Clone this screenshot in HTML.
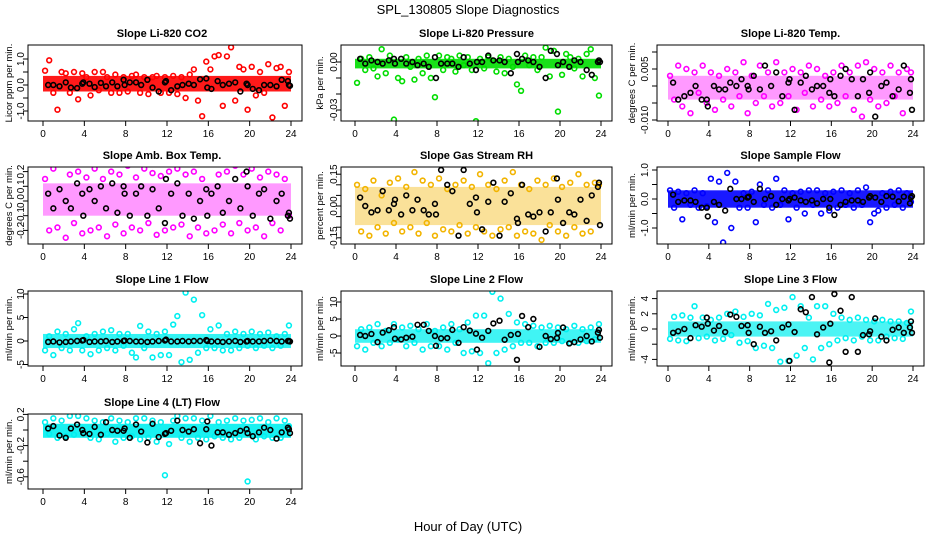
<!DOCTYPE html>
<html><head><meta charset="utf-8"><style>
html,body{margin:0;padding:0;background:#fff;}
svg{display:block;font-family:"Liberation Sans",sans-serif;}
</style></head><body>
<svg id="chart" width="936" height="540" viewBox="0 0 936 540" xmlns="http://www.w3.org/2000/svg">
<rect width="936" height="540" fill="#fff"/>
<text x="468" y="14" text-anchor="middle" font-size="13">SPL_130805  Slope Diagnostics</text>
<text x="468" y="531" text-anchor="middle" font-size="13">Hour of Day (UTC)</text>
</svg>
<script>
const colorHours=[0.2,0.6,1.0,1.4,1.8,2.2,2.6,3.0,3.4,3.8,4.2,4.6,5.0,5.4,5.8,6.2,6.6,7.0,7.4,7.8,8.2,8.6,9.0,9.4,9.8,10.2,10.6,11.0,11.4,11.8,12.2,12.6,13.0,13.4,13.8,14.2,14.6,15.0,15.4,15.8,16.2,16.6,17.0,17.4,17.8,18.2,18.6,19.0,19.4,19.8,20.2,20.6,21.0,21.4,21.8,22.2,22.6,23.0,23.4,23.8];
const blackHours=[0.5,1.0,1.6,2.2,2.7,3.3,3.8,3.9,4.5,5.0,5.6,6.1,6.7,7.2,7.8,7.9,8.4,9.0,9.5,10.1,10.6,11.2,11.8,11.9,12.4,13.0,13.5,14.1,14.6,15.2,15.8,15.9,16.3,16.9,17.4,18.0,18.6,19.1,19.7,19.8,20.3,20.9,21.4,22.0,22.6,23.1,23.7,23.8,23.9];
const xTicks=[0,4,8,12,16,20,24];
const titles=["Slope Li-820 CO2","Slope Li-820 Pressure","Slope Li-820 Temp.","Slope Amb. Box Temp.","Slope Gas Stream RH","Slope Sample Flow","Slope Line 1 Flow","Slope Line 2 Flow","Slope Line 3 Flow","Slope Line 4 (LT) Flow"];
const yTitles=["Licor ppm per min.","kPa per min.","degrees C per min.","degrees C per min.","percent per min.","ml/min per min.","ml/min per min.","ml/min per min.","ml/min per min.","ml/min per min."];
const coreLo=[-0.25,-0.004,-0.004,-0.10,-0.09,-0.3,-1.5,-2,-1,-0.1];
const coreHi=[0.35,0.002,0.003,0.12,0.09,0.3,1.5,2,1,0.08];
const yTickVals=[[-1,-0.5,0,0.5,1],[-0.03,-0.02,-0.01,0],[-0.010,-0.005,0,0.005,0.010],[-0.2,-0.1,0,0.1,0.2],[-0.15,-0.10,-0.05,0,0.05,0.10,0.15],[-1,-0.5,0,0.5,1],[-5,0,5,10],[-5,0,5,10],[-4,-2,0,2,4],[-0.6,-0.4,-0.2,0,0.2]];
const yTickLabels=[["-1.0","","0.0","","1.0"],["-0.03","","","0.00"],["-0.010","","","0.005",""],["-0.2","-0.1","0.0","0.1","0.2"],["-0.15","","","0.00","","","0.15"],["-1.0","","0.0","","1.0"],["-5","0","5","10"],["-5","0","5","10"],["-4","","0","2","4"],["-0.6","","-0.2","","0.2"]];
const colored=[
[0.55,0.95,-0.3,-0.95,0.5,0.45,-0.3,0.5,-0.55,0.45,0.3,-0.4,0.5,-0.2,0.5,0.3,-0.3,0.4,-0.3,0.3,-0.25,0.35,0.4,-0.3,0.3,-0.35,0.3,0.35,-0.3,0.3,-0.3,0.35,-0.35,0.3,-0.5,0.4,0.6,-0.6,-1.2,0.9,0.6,1.1,1.15,-0.8,1.1,1.45,-0.6,0.7,0.6,-0.95,0.7,-0.4,0.5,-0.3,0.8,-1.25,0.65,0.7,-0.8,0.5],
[-0.013,0.002,-0.005,0.003,-0.004,-0.009,0.008,-0.007,0.004,-0.036,-0.010,-0.012,0.003,-0.003,-0.011,0.002,-0.007,0.004,-0.010,-0.022,0.004,-0.005,0.003,0.002,-0.006,0.004,-0.002,0.003,-0.005,-0.037,0.002,-0.004,0.003,0.001,-0.006,0.003,-0.007,0.002,-0.003,-0.014,-0.018,0.004,-0.002,0.003,-0.005,0.003,0.009,-0.009,0.007,-0.031,-0.008,0.005,0.003,-0.004,0.002,-0.009,0.005,0.008,-0.010,-0.021],
[0.003,-0.004,0.006,-0.006,0.005,-0.008,0.004,-0.002,0.006,-0.005,0.004,-0.007,0.003,-0.004,0.005,-0.006,0.004,-0.003,0.007,-0.008,0.003,-0.005,0.006,-0.003,0.004,-0.006,0.007,-0.005,0.004,-0.003,0.005,-0.007,0.004,-0.002,0.006,-0.006,0.005,-0.004,0.003,-0.006,0.004,-0.005,0.006,-0.003,0.004,-0.007,0.006,-0.009,0.007,-0.004,0.005,-0.006,0.004,-0.005,0.006,-0.003,0.004,-0.008,0.005,0.004],
[0.15,-0.2,0.22,-0.18,0.25,-0.25,0.18,-0.15,0.2,-0.22,0.16,-0.2,0.22,-0.18,0.15,-0.24,0.2,-0.16,0.18,-0.22,0.24,-0.18,0.16,-0.2,0.22,-0.15,0.19,-0.23,0.17,-0.2,0.2,-0.18,0.22,-0.16,0.18,-0.24,0.2,-0.18,0.15,-0.22,0.25,-0.2,0.18,-0.16,0.2,-0.22,0.24,-0.15,0.18,-0.2,0.22,-0.18,0.16,-0.24,0.2,-0.15,0.18,-0.2,0.15,-0.1],
[0.1,-0.12,0.08,-0.14,0.12,-0.1,0.05,-0.13,0.11,-0.08,0.13,-0.12,0.09,-0.1,0.16,-0.13,0.12,-0.08,0.1,-0.14,0.13,-0.11,0.08,-0.12,0.1,-0.09,0.12,-0.13,0.09,-0.1,0.15,-0.12,0.1,-0.14,0.08,-0.11,0.12,-0.1,0.16,-0.14,0.1,-0.12,0.08,-0.13,0.12,-0.16,0.1,-0.09,0.13,-0.12,0.09,-0.14,0.11,-0.1,0.15,-0.13,0.1,-0.12,0.11,0.1],
[0.3,-0.3,0.25,-0.7,0.2,-0.2,0.3,-0.3,0.2,-0.25,0.7,-0.8,0.6,-1.5,0.9,-1.0,0.6,-0.3,0.2,-0.3,0.25,-0.8,0.5,-0.2,0.3,-0.3,0.7,-0.2,0.3,-0.7,0.2,-0.3,0.25,-0.5,0.3,-0.2,0.3,-0.5,0.2,-0.4,0.25,-0.3,0.3,-0.2,0.2,-0.3,0.3,-0.2,0.4,-0.8,-0.5,-0.4,0.2,-0.3,0.25,-0.2,0.3,-0.3,0.2,-0.1],
[-2,1,-3,2,-1.5,1.5,-2,2.5,3.8,-2,1,-2.8,1.5,-2,2,-1.5,2.3,-2,1.5,-1,1.5,-2.5,-3.5,3.2,-1.5,2,-3.5,1.5,-3,2,-3,3.5,5.3,-4.5,10.3,-4,8.8,-2.5,5.5,-1.5,2.5,-1.5,3.3,-2,1.5,-2,2,-1.5,1.5,-1,2,-1.5,1.5,-1,1.8,-1.5,1,-1,1.5,3.3],
[-3,2,-4,2.5,-2,3.5,-3,1.5,-2,3.5,-1,2.5,-3,3,-2,2,-4,3.5,-3,1.5,-3,2.5,-4,3.5,-2,2,-5,4,-4.5,6,-5,6,-8,13,-5,11,-4,6.5,-3,4,-2,3.5,-2,3,-3,2.5,-2,3,-2,2.5,-1.5,2,-2,3,-2,2,-1.5,2.5,-1,3.5],
[-1.3,1.6,-1.5,1.8,-1.6,1.5,3,-1.2,1.5,-1,1.2,-1.5,1.5,-1.3,2,-0.8,2.3,-1.8,1.6,-1.6,2,-2.5,1.8,-2.2,3.3,-2.5,2.5,-4.3,2.8,-4.2,4.2,-3.5,3,-2.5,1.5,-4,3,-2.5,3,-2,2,-1.5,1.5,-1.2,1.2,-1.5,1.5,-1,1.2,-1.5,1,-1.5,1.2,-1,1,-1.2,1,-1.3,0.8,2.3],
[0.1,-0.05,0.15,-0.1,0.12,-0.08,0.18,-0.06,0.18,-0.8,0.15,-0.1,0.12,-0.12,0.1,-0.05,0.15,-0.15,0.12,-0.1,0.1,-0.08,0.15,-0.12,0.15,-0.1,0.12,-0.15,0.1,-0.58,-0.18,0.12,0.18,-0.1,0.15,-0.15,0.15,-0.1,0.12,-0.12,0.18,-0.08,0.1,-0.1,0.12,-0.12,0.15,-0.1,0.12,-0.66,0.13,-0.12,0.15,-0.08,0.1,-0.1,0.15,-0.1,0.12,0.05]
];
const black=[
[0,0,-0.05,0.1,-0.1,-0.12,0.05,0.1,0.05,-0.08,0.08,-0.05,0.1,-0.05,0.2,0.0,0.1,0.1,0.0,0.2,-0.1,-0.25,0.1,0.15,-0.2,-0.05,0.0,0.05,0.0,0.22,0.25,-0.1,-0.15,0.15,0.0,0.05,0.1,-0.25,0.05,0.0,-0.15,-0.2,0.0,0.0,-0.05,0.2,0.15,0.0,-0.03],
[0.002,-0.001,0.001,0.000,-0.001,0.001,0.002,-0.001,0.002,-0.001,0.000,-0.002,-0.001,-0.003,0.003,-0.010,-0.001,-0.001,-0.001,-0.003,0.003,-0.001,-0.005,0.000,0.000,0.004,0.001,0.001,0.000,-0.007,0.005,0.000,0.002,0.001,0.000,-0.003,-0.010,0.007,0.005,-0.002,0.000,-0.003,0.001,0.000,-0.005,-0.008,0.000,0.001,0.000],
[0.001,-0.004,-0.003,-0.002,0.000,-0.004,-0.004,-0.006,0.000,-0.001,-0.001,0.001,0.000,0.002,0.000,-0.001,0.003,-0.001,0.006,0.000,0.004,-0.003,0.001,0.002,-0.007,0.001,0.003,-0.001,0.000,0.000,-0.002,0.002,-0.003,0.003,0.005,0.002,-0.003,0.002,-0.002,0.004,-0.009,0.000,0.001,-0.003,-0.001,0.006,-0.002,0.002,-0.007],
[0.05,-0.05,0.08,0.0,-0.05,0.12,0.05,-0.1,0.08,0.0,0.1,-0.05,0.12,-0.08,0.1,0.05,-0.1,0.05,0.1,-0.1,0.08,-0.05,-0.15,0.15,0.05,0.12,-0.1,0.05,-0.12,0.0,0.08,-0.1,0.05,0.1,-0.08,0.0,0.15,-0.05,0.2,0.1,-0.1,0.05,0.08,-0.12,0.0,0.05,-0.1,-0.08,-0.12],
[0.04,0.00,-0.03,-0.02,0.07,-0.02,0.01,0.03,-0.04,0.05,-0.02,0.03,-0.02,-0.04,0.01,-0.04,0.17,0.10,0.07,-0.14,0.17,0.01,0.04,-0.03,-0.11,0.02,0.11,-0.14,0.02,0.06,-0.06,-0.08,0.10,-0.04,-0.05,-0.03,-0.12,-0.03,0.13,0.03,-0.08,-0.03,-0.04,0.03,-0.07,0.05,0.09,0.11,-0.09],
[0.15,-0.1,-0.05,-0.05,-0.1,-0.3,-0.3,-0.6,-0.1,-0.2,-0.4,0.35,0.0,0.0,0.05,0.08,-0.1,0.35,0.0,0.1,-0.2,0.0,-0.05,0.0,0.05,-0.05,-0.1,-0.05,-0.15,0.0,-0.3,0.0,-0.55,-0.2,-0.1,-0.05,-0.05,-0.1,0.05,0.1,0.05,-0.1,0.1,0.08,-0.08,0.08,-0.15,0.05,0.1],
[-0.2,-0.1,-0.3,-0.2,-0.1,0,0.1,0.2,-0.2,-0.1,-0.1,0,-0.2,-0.1,0,0.1,0,-0.1,-0.1,-0.2,-0.1,0,0.1,0.3,-0.1,-0.1,0,-0.1,0,0,0.2,0,-0.1,-0.1,-0.2,-0.1,0,-0.2,-0.1,0,-0.1,-0.1,0,0.1,0,-0.1,0,0,-0.1],
[0.3,0,0.6,-1.8,1,1.7,2.6,-0.8,-1,-0.5,-0.2,3.3,3.3,1.5,0,-2.9,-0.7,-0.6,1.8,-2,2.6,1.6,0.7,-4,-0.5,1.5,3.7,4.5,-1.1,0.3,-7,0.6,5.9,2.6,5,-3.2,0,-0.9,-0.6,0.9,2.5,-2.2,-1.8,-1,0,-1.6,1,1.8,-0.5],
[-0.5,-0.3,0,-1.2,0.5,0.3,1.5,0.7,-0.2,0.4,-0.4,1.9,1.6,0.4,0.5,-0.5,-2,0.3,-0.5,-0.3,-1.5,0.2,0.6,-4.2,-0.4,2.6,2.2,4.2,-0.7,0.2,-4.4,0.7,4.6,2.4,-3,4.2,-3,-0.8,-0.7,-0.3,1.4,-1,-1.5,-0.1,0.2,-0.5,0.2,1,-0.5],
[0.02,0.05,-0.07,-0.1,0.02,0.07,0,-0.04,-0.05,0.04,-0.06,0.1,0,-0.01,-0.01,0.02,-0.1,0.07,-0.02,-0.16,0.08,-0.09,-0.05,-0.04,-0.01,0.12,0,-0.02,0.01,-0.17,0.01,0.11,-0.2,-0.03,-0.03,-0.06,-0.04,-0.01,0.01,-0.04,-0.08,-0.03,0.03,0,-0.11,-0.03,0.03,0.01,-0.04]
];
const colors=["#ff0000","#00dd00","#ff00ff","#ff00ff","#f2b400","#0000ff","#00f0f0","#00f0f0","#00f0f0","#00f0f0"];
const coreOpacity=[0.9,0.9,0.4,0.4,0.4,0.9,0.8,0.75,0.7,0.9];
// layout (pixel geometry, not data)
const boxes=[[28,302,45,121],[341,612,45,121],[657,924,45,121],[28,302,167,244],[341,612,167,244],[657,924,167,244],[28,302,291,366],[341,612,291,366],[657,924,291,366],[28,302,414,489]];
const xPix=[[43,291],[355,601],[668,913]];
const yRef=[[0,85,26],[0,62,1600],[0,86,3400],[0,201,147],[0,206,212],[0,199,29],[0,341,4.7],[0,336,3.4],[0,329,7.6],[0,430,78]];
const labelX=[[24,12],[337,323],[648,635]];
const NS="http://www.w3.org/2000/svg";
const svg=document.getElementById('chart');
function mk(tag,attrs,parent){const e=document.createElementNS(NS,tag);for(const k in attrs)e.setAttribute(k,attrs[k]);(parent||svg).appendChild(e);return e;}
for(let p=0;p<10;p++){
  const [bx0,bx1,by0,by1]=boxes[p];const col=p%3;
  const g=mk('g',{});
  
  
  const xs=h=>xPix[col][0]+(xPix[col][1]-xPix[col][0])*h/24;
  const ys=v=>yRef[p][1]-(v-yRef[p][0])*yRef[p][2];
  const clip=mk('clipPath',{id:'c'+p},g);mk('rect',{x:bx0,y:by0,width:bx1-bx0,height:by1-by0},clip);
  const t=mk('text',{x:(bx0+bx1)/2+(col==0?-3:0),y:by0-8,'text-anchor':'middle','font-size':'11','font-weight':'bold'},g);t.textContent=titles[p];
  
  
  const plot=mk('g',{'clip-path':'url(#c'+p+')'},g);
  const band=mk('rect',{x:xs(0),y:ys(coreHi[p]),width:xs(24)-xs(0),height:ys(coreLo[p])-ys(coreHi[p]),fill:colors[p],opacity:coreOpacity[p]},plot);
  
  
  colored[p].forEach((v,i)=>{if(i>=colorHours.length)return;
    const c=mk('circle',{cx:xs(colorHours[i]),cy:ys(v),r:2.4,fill:'none',stroke:colors[p],'stroke-width':1.6},plot);
    
    });
  black[p].forEach((v,i)=>{if(i>=blackHours.length)return;
    const c=mk('circle',{cx:xs(blackHours[i]),cy:ys(v),r:2.4,fill:'none',stroke:'#000','stroke-width':1.6},plot);
    
    });
  const box=mk('rect',{x:bx0,y:by0,width:bx1-bx0,height:by1-by0,fill:'none',stroke:'#000','stroke-width':1},g);
  
  
  xTicks.forEach(h=>{mk('line',{x1:xs(h),x2:xs(h),y1:by1,y2:by1+5,stroke:'#000'},g);
    const l=mk('text',{x:xs(h),y:by1+16,'text-anchor':'middle','font-size':'10'},g);l.textContent=h;
    
    });
  const tv=yTickVals[p];
  tv.forEach((v,i)=>{mk('line',{x1:bx0-5,x2:bx0,y1:ys(v),y2:ys(v),stroke:'#000'},g);
    const lab=yTickLabels[p][i];if(!lab)return;
    const lx=labelX[col][0];
    const l=mk('text',{x:lx,y:ys(v),'text-anchor':'middle','font-size':'10',transform:'rotate(-90 '+lx+' '+ys(v)+')'},g);l.textContent=lab;
    
    });
  const ax=labelX[col][1],ay=(by0+by1)/2;
  const yt=mk('text',{x:ax,y:ay,'text-anchor':'middle','font-size':'9.5',transform:'rotate(-90 '+ax+' '+ay+')'},g);yt.textContent=yTitles[p];
  
  
}
</script>
</body></html>
